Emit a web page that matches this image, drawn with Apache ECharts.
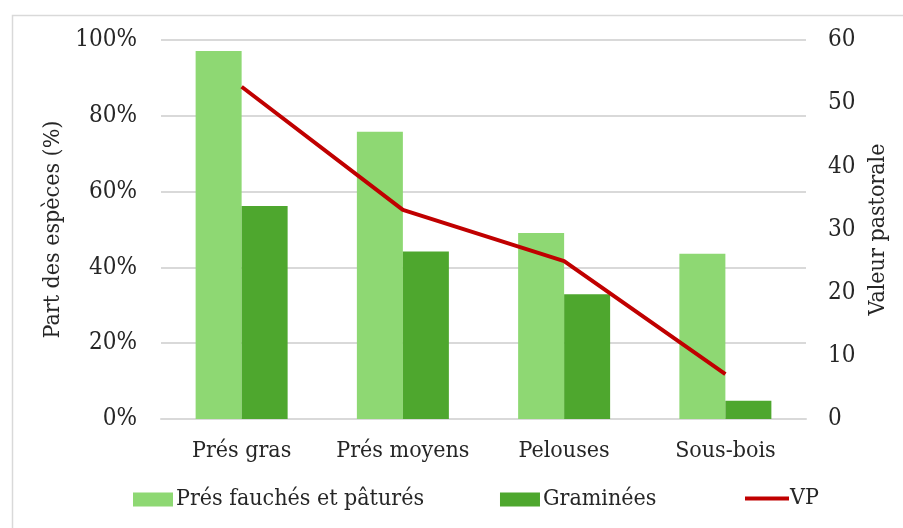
<!DOCTYPE html>
<html lang="fr">
<head>
    <meta charset="UTF-8">
    <title>Part des espèces et valeur pastorale</title>
    <style>
        * { margin: 0; padding: 0; }
        body { background: #fff; }
        #chart { width: 903px; height: 528px; }
    </style>
</head>
<body>
    <div id="chart"></div>
</body>
</html>
<script src="https://cdn.jsdelivr.net/npm/echarts@6/dist/echarts.min.js"></script>
<script>
    const categories = ['Prés gras', 'Prés moyens', 'Pelouses', 'Sous-bois'];
    const presFauches = [97.1, 75.8, 49.1, 43.6];   // %
    const graminees = [56.2, 44.2, 32.9, 4.8];      // %
    const vp = [52.6, 33.1, 25.0, 7.1];             // valeur pastorale
    const leftTicks = [0, 20, 40, 60, 80, 100];
    const rightTicks = [0, 10, 20, 30, 40, 50, 60];

    const font = '"DejaVu Serif Condensed", "DejaVu Serif", serif';
    const textColor = '#262626';
    const gridColor = '#d9d9d9';

    var myChart = echarts.init(document.getElementById('chart'));

    myChart.setOption({
        animation: false,
        textStyle: { fontFamily: font },
        graphic: [{
            type: 'rect',
            left: 10,
            top: 13,
            z: -10,
            shape: { width: 900, height: 520 },
            style: { fill: 'none', stroke: gridColor, lineWidth: 1.5 }
        }],
        grid: { left: 161, right: 97, top: 40, bottom: 109 },
        legend: [{
            bottom: 12,
            left: 128,
            itemWidth: 40,
            itemHeight: 14,
            itemGap: 76,
            icon: 'rect',
            textStyle: { fontFamily: font, fontSize: 23, color: textColor, padding: [0, 0, 0, -2] },
            data: ['Prés fauchés et pâturés', 'Graminées']
        }, {
            bottom: 13,
            left: 740,
            itemWidth: 44,
            itemHeight: 4,
            icon: 'rect',
            textStyle: { fontFamily: font, fontSize: 23, color: textColor, padding: [0, 0, 0, -4] },
            data: ['VP']
        }],
        xAxis: {
            type: 'category',
            data: categories,
            axisTick: { show: false },
            axisLine: { lineStyle: { color: gridColor, width: 2 } },
            axisLabel: { color: textColor, fontSize: 23, fontFamily: font, margin: 21, interval: 0 }
        },
        yAxis: [{
            type: 'value',
            min: leftTicks[0],
            max: leftTicks[leftTicks.length - 1],
            interval: 20,
            name: 'Part des espèces (%)',
            nameLocation: 'middle',
            nameRotate: 90,
            nameGap: 88,
            nameTextStyle: { color: textColor, fontSize: 23, fontFamily: font },
            axisLabel: { color: textColor, fontSize: 24, fontFamily: font, margin: 24, formatter: '{value}%' },
            splitLine: { lineStyle: { color: gridColor, width: 2 } }
        }, {
            type: 'value',
            min: rightTicks[0],
            max: rightTicks[rightTicks.length - 1],
            interval: 10,
            name: 'Valeur pastorale',
            nameLocation: 'middle',
            nameRotate: 90,
            nameGap: 61,
            nameTextStyle: { color: textColor, fontSize: 23, fontFamily: font },
            axisLabel: { color: textColor, fontSize: 24, fontFamily: font, margin: 22 },
            splitLine: { show: false }
        }],
        series: [{
            name: 'Prés fauchés et pâturés',
            type: 'bar',
            data: presFauches,
            barWidth: 46,
            barGap: '0%',
            itemStyle: { color: '#8ed873' }
        }, {
            name: 'Graminées',
            type: 'bar',
            data: graminees,
            barWidth: 46,
            barGap: '0%',
            itemStyle: { color: '#4ea72e' }
        }, {
            name: 'VP',
            type: 'line',
            yAxisIndex: 1,
            data: vp,
            symbol: 'none',
            lineStyle: { color: '#c00000', width: 4 },
            itemStyle: { color: '#c00000' },
            z: 5
        }]
    });
</script>
